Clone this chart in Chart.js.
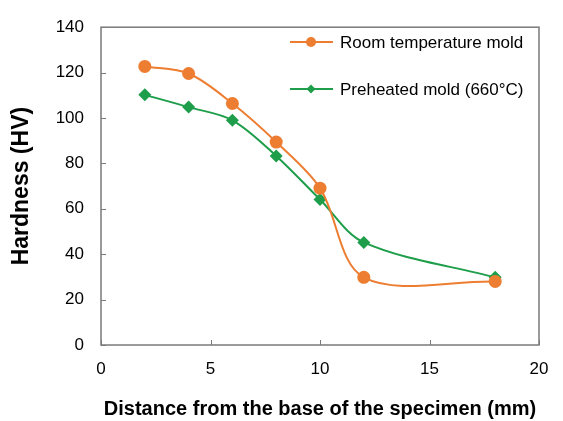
<!DOCTYPE html>
<html>
<head>
<meta charset="utf-8">
<script src="https://cdn.jsdelivr.net/npm/chart.js@4.4.0/dist/chart.umd.min.js"></script>
<style>
  html, body { margin: 0; padding: 0; background: #fff; }
  #wrap { width: 563px; height: 421px; }
</style>
</head>
<body>
<div id="wrap"><canvas id="myChart" width="563" height="421"></canvas></div>
<script>
// distance (mm) and hardness (HV)
const distance = [2, 4, 6, 8, 10, 12, 18];
const roomTemp = [122.7, 119.6, 106.4, 89.4, 69.1, 29.8, 28.0];
const preheated = [110.2, 104.8, 99.0, 83.3, 64.1, 45.2, 29.8];
const xTicks = [0, 5, 10, 15, 20];
const yTicks = [0, 20, 40, 60, 80, 100, 120, 140];

const orange = '#ED7D31';
const green = '#1E9E4A';
const axisGray = '#7a7a7a';
const fontFam = "'Liberation Sans', Arial, sans-serif";

function points(ys) {
    return distance.map((d, i) => ({ x: d, y: ys[i] }));
}

// box round the plot area + inward tick marks
const frame = {
    id: 'frame',
    afterDatasetsDraw(chart) {
        const { ctx, chartArea: a, scales } = chart;
        ctx.save();
        ctx.strokeStyle = axisGray;
        ctx.lineWidth = 1.5;
        ctx.strokeRect(a.left, a.top, a.right - a.left, a.bottom - a.top);
        ctx.lineWidth = 1;
        ctx.beginPath();
        yTicks.forEach(v => {
            const y = Math.round(scales.y.getPixelForValue(v)) + 0.5;
            ctx.moveTo(a.left, y);
            ctx.lineTo(a.left + 5, y);
        });
        xTicks.forEach(v => {
            const x = Math.round(scales.x.getPixelForValue(v)) + 0.5;
            ctx.moveTo(x, a.bottom);
            ctx.lineTo(x, a.bottom - 5);
        });
        ctx.stroke();
        ctx.restore();
    }
};

// legend drawn inside the plot, top right
const insideLegend = {
    id: 'insideLegend',
    afterDraw(chart) {
        const { ctx } = chart;
        const rows = [42, 89];
        ctx.save();
        ctx.font = '17px ' + fontFam;
        ctx.textBaseline = 'middle';
        chart.data.datasets.forEach((ds, i) => {
            const y = rows[i];
            ctx.strokeStyle = ds.borderColor;
            ctx.lineWidth = 2;
            ctx.beginPath();
            ctx.moveTo(290, y);
            ctx.lineTo(333, y);
            ctx.stroke();
            ctx.fillStyle = ds.backgroundColor;
            ctx.beginPath();
            if (ds.pointStyle === 'rectRot') {
                ctx.moveTo(311, y - 4.5);
                ctx.lineTo(315.5, y);
                ctx.lineTo(311, y + 4.5);
                ctx.lineTo(306.5, y);
                ctx.closePath();
            } else {
                ctx.arc(311, y, 5, 0, Math.PI * 2);
            }
            ctx.fill();
            ctx.fillStyle = '#000';
            ctx.fillText(ds.label, 340, y + 1);
        });
        ctx.restore();
    }
};

const ctx = document.getElementById('myChart').getContext('2d');
const chart = new Chart(ctx, {
    type: 'line',
    data: {
        datasets: [
            {
                label: 'Room temperature mold',
                data: points(roomTemp),
                borderColor: orange,
                backgroundColor: orange,
                borderWidth: 2,
                tension: 0.33,
                pointStyle: 'circle',
                pointRadius: 6.5,
                pointBorderWidth: 0
            },
            {
                label: 'Preheated mold (660°C)',
                data: points(preheated),
                borderColor: green,
                backgroundColor: green,
                borderWidth: 2,
                tension: 0.33,
                pointStyle: 'rectRot',
                pointRadius: 6.5,
                pointBorderWidth: 0
            }
        ]
    },
    options: {
        responsive: false,
        animation: false,
        layout: { padding: { top: 16, right: 24, left: 0, bottom: 0 } },
        plugins: {
            legend: { display: false },
            tooltip: { enabled: false }
        },
        scales: {
            x: {
                type: 'linear',
                min: 0,
                max: 20,
                afterBuildTicks(scale) { scale.ticks = xTicks.map(v => ({ value: v })); },
                afterFit(scale) { scale.height = 76; },
                grid: { display: false, drawTicks: false },
                border: { display: false },
                ticks: { color: '#000', padding: 14, font: { family: fontFam, size: 17 } },
                title: {
                    display: true,
                    text: 'Distance from the base of the specimen (mm)',
                    color: '#000',
                    font: { family: fontFam, size: 20, weight: 'bold' },
                    padding: { top: 0, bottom: 0 }
                }
            },
            y: {
                min: 0,
                max: 140,
                afterBuildTicks(scale) { scale.ticks = yTicks.map(v => ({ value: v })); },
                afterFit(scale) { scale.width = 101; },
                grid: { display: false, drawTicks: false },
                border: { display: false },
                ticks: { color: '#000', padding: 17, font: { family: fontFam, size: 17 } },
                title: {
                    display: true,
                    text: 'Hardness (HV)',
                    color: '#000',
                    font: { family: fontFam, size: 23, weight: 'bold' },
                    padding: { top: 8, bottom: 0 }
                }
            }
        }
    },
    plugins: [frame, insideLegend]
});
</script>
</body>
</html>
